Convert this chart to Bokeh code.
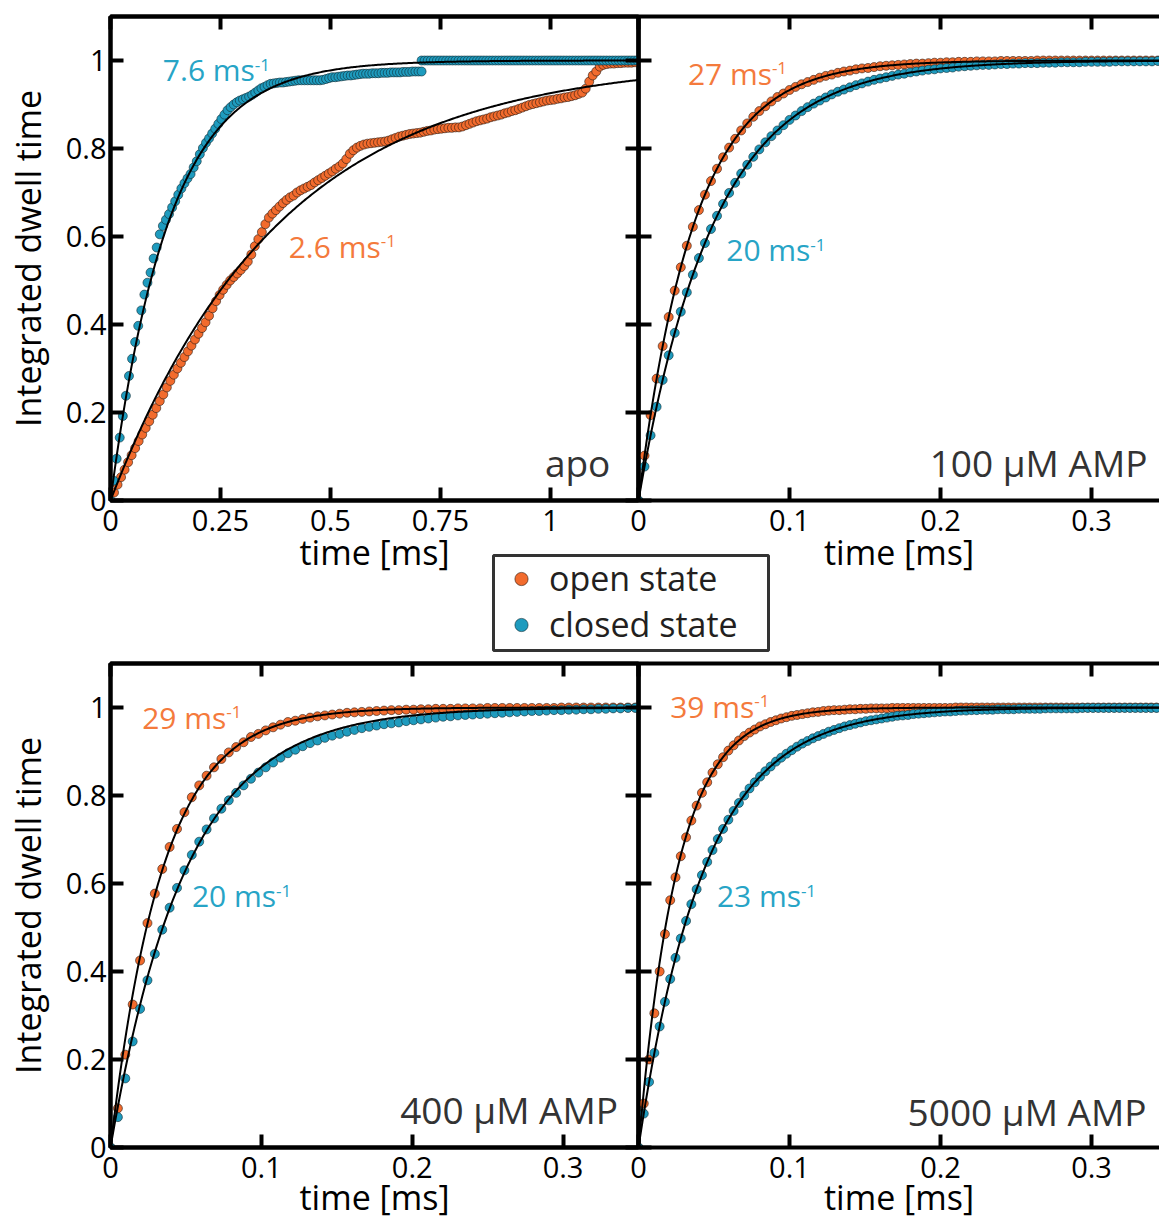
import numpy as np
from bokeh.plotting import figure
from bokeh.layouts import row, column
from bokeh.models import (Range1d, LinearAxis, FixedTicker, CustomJSTickFormatter,
                          Label, Legend, LegendItem)
from bokeh.embed import file_html
from bokeh.resources import INLINE

FONT = "Open Sans"
ORANGE = "#F26B2D"
TEAL = "#1E9BBE"
ORANGE_TXT = "#F47A3C"
TEAL_TXT = "#27A4C6"

# ---------------- data ----------------
panel_names = ["apo", "100 μM AMP", "400 μM AMP", "5000 μM AMP"]
rate_open = [2.6, 27, 29, 39]      # ms^-1, fit rates (open state)
rate_closed = [7.6, 20, 20, 23]    # ms^-1, fit rates (closed state)
rate_text_open = ["2.6 ms", "27 ms", "29 ms", "39 ms"]
rate_text_closed = ["7.6 ms", "20 ms", "20 ms", "23 ms"]
legend_labels = ["open state", "closed state"]

y_ticks = [0, 0.2, 0.4, 0.6, 0.8, 1]
x_ticks_apo = [0, 0.25, 0.5, 0.75, 1]
x_ticks_amp = [0, 0.1, 0.2, 0.3]

# time-bin widths (ms)
dt_apo_open = 0.008
dt_apo_closed = 0.007
t0_apo_closed_tail = 0.707
dt_100 = 0.004
dt_400 = 0.0049
dt_5000 = 0.0035

apo_open = [
    0.0, 0.018, 0.036, 0.053, 0.07, 0.087, 0.103, 0.119, 0.135, 0.15,
    0.165, 0.18, 0.195, 0.21, 0.226, 0.241, 0.257, 0.272, 0.286, 0.3,
    0.313, 0.326, 0.339, 0.352, 0.366, 0.379, 0.392, 0.405, 0.42, 0.437,
    0.453, 0.467, 0.479, 0.49, 0.5, 0.508, 0.516, 0.524, 0.533, 0.543,
    0.559, 0.578, 0.594, 0.61, 0.628, 0.643, 0.652, 0.66, 0.668, 0.676,
    0.683, 0.689, 0.693, 0.7, 0.705, 0.709, 0.713, 0.717, 0.723, 0.728,
    0.733, 0.738, 0.743, 0.748, 0.754, 0.759, 0.766, 0.776, 0.788, 0.796,
    0.802, 0.806, 0.809, 0.811, 0.812, 0.813, 0.814, 0.815, 0.816, 0.818,
    0.821, 0.824, 0.827, 0.829, 0.831, 0.833, 0.834, 0.835, 0.836, 0.838,
    0.84, 0.841, 0.843, 0.844, 0.845, 0.846, 0.847, 0.847, 0.848, 0.848,
    0.85, 0.853, 0.856, 0.859, 0.862, 0.864, 0.866, 0.868, 0.871, 0.873,
    0.875, 0.877, 0.88, 0.882, 0.885, 0.887, 0.89, 0.893, 0.896, 0.899,
    0.901, 0.903, 0.905, 0.907, 0.909, 0.91, 0.911, 0.913, 0.914, 0.916,
    0.917, 0.919, 0.921, 0.924, 0.927, 0.936, 0.952, 0.966, 0.975, 0.986,
    0.99, 0.992, 0.993, 0.993, 0.994, 0.994, 0.995, 0.995, 0.995, 0.996]

apo_closed = [
    0.0, 0.045, 0.095, 0.143, 0.192, 0.238, 0.283, 0.322, 0.36, 0.397,
    0.432, 0.468, 0.495, 0.518, 0.55, 0.575, 0.605, 0.624, 0.638, 0.651,
    0.666, 0.68, 0.695, 0.709, 0.721, 0.732, 0.742, 0.757, 0.771, 0.787,
    0.801, 0.813, 0.823, 0.834, 0.845, 0.856, 0.867, 0.877, 0.887, 0.894,
    0.9, 0.905, 0.909, 0.912, 0.915, 0.918, 0.922, 0.927, 0.932, 0.937,
    0.94, 0.944, 0.947, 0.948, 0.949, 0.95, 0.95, 0.951, 0.952, 0.953,
    0.954, 0.955, 0.955, 0.955, 0.955, 0.955, 0.955, 0.955, 0.955, 0.956,
    0.958, 0.96, 0.962, 0.962, 0.963, 0.964, 0.965, 0.966, 0.966, 0.967,
    0.968, 0.969, 0.97, 0.97, 0.97, 0.971, 0.971, 0.971, 0.972, 0.972,
    0.972, 0.973, 0.973, 0.973, 0.973, 0.974, 0.974, 0.974, 0.975, 0.975,
    0.975, 0.975]

apo_closed_tail = [
    1.0, 1.0, 1.0, 1.0, 1.0, 1.0, 1.0, 1.0, 1.0, 1.0,
    1.0, 1.0, 1.0, 1.0, 1.0, 1.0, 1.0, 1.0, 1.0, 1.0,
    1.0, 1.0, 1.0, 1.0, 1.0, 1.0, 1.0, 1.0, 1.0, 1.0,
    1.0, 1.0, 1.0, 1.0, 1.0, 1.0, 1.0, 1.0, 1.0, 1.0,
    1.0, 1.0, 1.0, 1.0, 1.0, 1.0, 1.0, 1.0, 1.0, 1.0,
    1.0, 1.0, 1.0, 1.0, 1.0, 1.0, 1.0, 1.0, 1.0, 1.0,
    1.0, 1.0, 1.0, 1.0, 1.0, 1.0, 1.0, 1.0, 1.0, 1.0,
    1.0]

amp100_open = [
    0.0, 0.102, 0.194, 0.277, 0.351, 0.417, 0.477, 0.53, 0.579, 0.622,
    0.66, 0.695, 0.726, 0.754, 0.78, 0.802, 0.822, 0.841, 0.857, 0.872,
    0.885, 0.896, 0.907, 0.917, 0.925, 0.933, 0.94, 0.946, 0.951, 0.956,
    0.961, 0.965, 0.968, 0.972, 0.975, 0.977, 0.98, 0.982, 0.983, 0.985,
    0.987, 0.988, 0.989, 0.99, 0.991, 0.992, 0.993, 0.993, 0.994, 0.995,
    0.995, 0.996, 0.996, 0.997, 0.997, 0.997, 0.998, 0.998, 0.998, 0.998,
    0.999, 0.999, 0.999, 0.999, 0.999, 0.999, 1.0, 1.0, 1.0, 1.0,
    1.0, 1.0, 1.0, 1.0, 1.0, 1.0, 1.0, 1.0, 1.0, 1.0,
    1.0, 1.0, 1.0, 1.0, 1.0, 1.0, 1.0]

amp100_closed = [
    0.0, 0.077, 0.148, 0.213, 0.274, 0.33, 0.381, 0.429, 0.473, 0.513,
    0.551, 0.585, 0.617, 0.647, 0.674, 0.699, 0.722, 0.743, 0.763, 0.781,
    0.798, 0.814, 0.828, 0.841, 0.853, 0.865, 0.875, 0.885, 0.894, 0.902,
    0.909, 0.916, 0.923, 0.929, 0.934, 0.939, 0.944, 0.948, 0.952, 0.956,
    0.959, 0.962, 0.965, 0.968, 0.97, 0.973, 0.975, 0.977, 0.979, 0.98,
    0.982, 0.983, 0.984, 0.986, 0.987, 0.988, 0.989, 0.99, 0.99, 0.991,
    0.992, 0.992, 0.993, 0.993, 0.994, 0.994, 0.994, 0.995, 0.995, 0.995,
    0.996, 0.996, 0.996, 0.996, 0.997, 0.997, 0.997, 0.997, 0.997, 0.998,
    0.998, 0.998, 0.998, 0.998, 0.998, 0.998, 0.999]

amp400_open = [
    0.0, 0.089, 0.211, 0.325, 0.425, 0.51, 0.577, 0.633, 0.683, 0.724,
    0.762, 0.796, 0.823, 0.845, 0.864, 0.883, 0.898, 0.91, 0.921, 0.933,
    0.94, 0.948, 0.955, 0.961, 0.967, 0.97, 0.974, 0.977, 0.98, 0.982,
    0.984, 0.986, 0.988, 0.989, 0.99, 0.991, 0.992, 0.993, 0.994, 0.994,
    0.995, 0.995, 0.996, 0.996, 0.997, 0.997, 0.997, 0.998, 0.998, 0.998,
    0.998, 0.999, 0.999, 0.999, 0.999, 0.999, 0.999, 0.999, 0.999, 0.999,
    0.999, 1.0, 1.0, 1.0, 1.0, 1.0, 1.0, 1.0, 1.0, 1.0,
    1.0, 1.0]

amp400_closed = [
    0.0, 0.069, 0.157, 0.241, 0.315, 0.38, 0.44, 0.495, 0.545, 0.59,
    0.63, 0.665, 0.695, 0.723, 0.748, 0.77, 0.789, 0.806, 0.823, 0.838,
    0.852, 0.864, 0.875, 0.886, 0.896, 0.904, 0.912, 0.919, 0.925, 0.931,
    0.936, 0.94, 0.945, 0.949, 0.953, 0.956, 0.959, 0.962, 0.964, 0.966,
    0.969, 0.971, 0.973, 0.975, 0.977, 0.979, 0.98, 0.982, 0.983, 0.984,
    0.985, 0.986, 0.987, 0.988, 0.989, 0.99, 0.991, 0.992, 0.992, 0.993,
    0.994, 0.994, 0.995, 0.995, 0.996, 0.996, 0.997, 0.997, 0.998, 0.998,
    0.999, 0.999]

amp5000_open = [
    0.0, 0.1, 0.2, 0.305, 0.4, 0.485, 0.562, 0.614, 0.662, 0.705,
    0.743, 0.777, 0.806, 0.83, 0.852, 0.871, 0.887, 0.902, 0.914, 0.925,
    0.935, 0.943, 0.95, 0.957, 0.962, 0.967, 0.971, 0.975, 0.978, 0.981,
    0.983, 0.985, 0.987, 0.989, 0.99, 0.992, 0.993, 0.994, 0.994, 0.995,
    0.996, 0.996, 0.997, 0.997, 0.998, 0.998, 0.998, 0.998, 0.999, 0.999,
    0.999, 0.999, 0.999, 0.999, 0.999, 0.999, 0.999, 0.999, 0.999, 0.999,
    1.0, 1.0, 1.0, 1.0, 1.0, 1.0, 1.0, 1.0, 1.0, 1.0,
    1.0, 1.0, 1.0, 1.0, 1.0, 1.0, 1.0, 1.0, 1.0, 1.0,
    1.0, 1.0, 1.0, 1.0, 1.0, 1.0, 1.0, 1.0, 1.0, 1.0,
    1.0, 1.0, 1.0, 1.0, 1.0, 1.0, 1.0, 1.0, 1.0]

amp5000_closed = [
    0.0, 0.077, 0.149, 0.215, 0.275, 0.331, 0.383, 0.431, 0.475, 0.515,
    0.553, 0.587, 0.619, 0.649, 0.676, 0.701, 0.724, 0.745, 0.765, 0.783,
    0.8, 0.816, 0.83, 0.843, 0.855, 0.866, 0.877, 0.886, 0.895, 0.903,
    0.911, 0.918, 0.924, 0.93, 0.935, 0.94, 0.945, 0.949, 0.953, 0.957,
    0.96, 0.963, 0.966, 0.969, 0.971, 0.973, 0.975, 0.977, 0.979, 0.981,
    0.982, 0.983, 0.985, 0.986, 0.987, 0.988, 0.989, 0.99, 0.991, 0.991,
    0.992, 0.993, 0.993, 0.994, 0.994, 0.995, 0.995, 0.995, 0.996, 0.996,
    0.996, 0.996, 0.997, 0.997, 0.997, 0.997, 0.997, 0.998, 0.998, 0.998,
    0.998, 0.998, 0.998, 0.998, 0.999, 0.999, 0.999, 0.999, 0.999, 0.999,
    0.999, 0.999, 0.999, 0.999, 0.999, 0.999, 0.999, 0.999, 0.999]


def tgrid(values, step, start=0.0):
    return [round(start + step * i, 4) for i in range(len(values))]


# ---------------- styling helpers ----------------
def style_axis(ax, ticks, show_labels):
    ax.ticker = FixedTicker(ticks=ticks)
    ax.formatter = CustomJSTickFormatter(code="return String(tick)")
    ax.axis_line_color = "black"
    ax.axis_line_width = 4
    ax.major_tick_in = 13
    ax.major_tick_out = 0
    ax.major_tick_line_width = 4
    ax.major_tick_line_color = "black"
    ax.minor_tick_line_color = None
    ax.major_label_text_font = FONT
    ax.major_label_text_color = "black"
    if show_labels:
        ax.major_label_text_font_size = "29px"
    else:
        ax.major_label_text_font_size = "0px"
        ax.major_label_text_alpha = 0
        ax.major_label_standoff = 0


X_END_RIGHT = 0.345
MARKER_KW_OPEN = dict(marker="circle", size=9, fill_color=ORANGE,
                      line_color="#2a1a10", line_width=0.6)
MARKER_KW_CLOSED = dict(marker="circle", size=9, fill_color=TEAL,
                        line_color="#0f2a33", line_width=0.6)


def make_panel(x_end, x_ticks, is_left, is_top):
    p = figure(x_range=Range1d(0, x_end), y_range=Range1d(0, 1.1),
               frame_width=528 if is_left else 521, frame_height=484,
               min_border_left=110 if is_left else 159,
               min_border_right=10 if is_left else 0,
               min_border_top=16 if is_top else 8,
               min_border_bottom=155 if is_top else 71,
               output_backend="svg", toolbar_location=None,
               background_fill_color=None, border_fill_color=None)
    p.xgrid.visible = False
    p.ygrid.visible = False
    if is_left:
        p.outline_line_color = "black"
        p.outline_line_width = 4
    else:
        p.outline_line_color = None
        p.margin = (0, 0, 0, -169)

    xb = p.xaxis[0]
    style_axis(xb, x_ticks, True)
    xb.major_label_standoff = 9
    xb.axis_label = "time [ms]"
    xb.axis_label_text_font = FONT
    xb.axis_label_text_font_size = "34px"
    xb.axis_label_text_font_style = "normal"
    xb.axis_label_text_color = "black"
    xb.axis_label_standoff = -5 if is_top else -7

    yl = p.yaxis[0]
    style_axis(yl, y_ticks, is_left)
    if is_left:
        yl.major_label_standoff = 4
        yl.axis_label = "Integrated dwell time"
        yl.axis_label_text_font = FONT
        yl.axis_label_text_font_size = "34px"
        yl.axis_label_text_font_style = "normal"
        yl.axis_label_text_color = "black"
        yl.axis_label_standoff = 12

    top = LinearAxis()
    style_axis(top, x_ticks, False)
    p.add_layout(top, "above")
    if is_left:
        right = LinearAxis()
        style_axis(right, y_ticks, False)
        p.add_layout(right, "right")
    return p


def add_series(p, t_o, y_o, t_c, y_c, k_o, k_c, x_end, extra=None):
    p.scatter(t_o, y_o, **MARKER_KW_OPEN)
    p.scatter(t_c, y_c, **MARKER_KW_CLOSED)
    if extra is not None:
        p.scatter(extra[0], extra[1], **MARKER_KW_CLOSED)
    tf = np.linspace(0, x_end, 400)
    p.line(tf, 1 - np.exp(-k_o * tf), line_color="black", line_width=2)
    p.line(tf, 1 - np.exp(-k_c * tf), line_color="black", line_width=2)


def rate_label(p, x, y, text, color, sup_dx):
    p.add_layout(Label(x=x, y=y, text=text, y_offset=9, text_font=FONT,
                       text_font_size="30px", text_color=color,
                       text_align="left", text_baseline="alphabetic"))
    p.add_layout(Label(x=x, y=y, text="-1", x_offset=sup_dx, y_offset=14,
                       text_font=FONT, text_font_size="17px",
                       text_color=color, text_align="left", text_baseline="alphabetic"))


def name_label(p, x, y, text):
    p.add_layout(Label(x=x, y=y, text=text, y_offset=11, text_font=FONT,
                       text_font_size="37px", text_color="#333333",
                       text_align="right", text_baseline="alphabetic"))


# ---------------- panels ----------------
tl = make_panel(1.2, x_ticks_apo, True, True)
add_series(tl, tgrid(apo_open, dt_apo_open), apo_open,
           tgrid(apo_closed, dt_apo_closed), apo_closed,
           rate_open[0], rate_closed[0], 1.2,
           extra=(tgrid(apo_closed_tail, dt_apo_closed, t0_apo_closed_tail), apo_closed_tail))
rate_label(tl, 0.119, 0.959, rate_text_closed[0], TEAL_TXT, 92)
rate_label(tl, 0.405, 0.557, rate_text_open[0], ORANGE_TXT, 92)
name_label(tl, 1.136, 0.061, panel_names[0])

tr = make_panel(X_END_RIGHT, x_ticks_amp, False, True)
add_series(tr, tgrid(amp100_open, dt_100), amp100_open,
           tgrid(amp100_closed, dt_100), amp100_closed,
           rate_open[1], rate_closed[1], X_END_RIGHT)
rate_label(tr, 0.0327, 0.951, rate_text_open[1], ORANGE_TXT, 84)
rate_label(tr, 0.0581, 0.549, rate_text_closed[1], TEAL_TXT, 84)
name_label(tr, 0.337, 0.061, panel_names[1])

bl = make_panel(0.35, x_ticks_amp, True, False)
add_series(bl, tgrid(amp400_open, dt_400), amp400_open,
           tgrid(amp400_closed, dt_400), amp400_closed,
           rate_open[2], rate_closed[2], 0.35)
rate_label(bl, 0.021, 0.957, rate_text_open[2], ORANGE_TXT, 84)
rate_label(bl, 0.054, 0.552, rate_text_closed[2], TEAL_TXT, 84)
name_label(bl, 0.3364, 0.061, panel_names[2])

br = make_panel(X_END_RIGHT, x_ticks_amp, False, False)
add_series(br, tgrid(amp5000_open, dt_5000), amp5000_open,
           tgrid(amp5000_closed, dt_5000), amp5000_closed,
           rate_open[3], rate_closed[3], X_END_RIGHT)
rate_label(br, 0.021, 0.982, rate_text_open[3], ORANGE_TXT, 84)
rate_label(br, 0.0519, 0.552, rate_text_closed[3], TEAL_TXT, 84)
name_label(br, 0.3364, 0.057, panel_names[3])

# ---------------- legend (own small canvas between the rows) ----------------
# its frame is the legend box; the series renderers used for the swatches lie
# outside its x-range, so only the legend swatches are visible
lg = figure(x_range=Range1d(5, 6), y_range=Range1d(0, 1.1),
            frame_width=275, frame_height=95,
            min_border_left=3, min_border_right=3, min_border_top=3, min_border_bottom=3,
            x_axis_location=None, y_axis_location=None,
            output_backend="svg", toolbar_location=None,
            background_fill_color=None, border_fill_color=None,
            outline_line_color="#333333", outline_line_width=3)
lg.xgrid.visible = False
lg.ygrid.visible = False
lg_open = lg.scatter(tgrid(amp100_open, dt_100), amp100_open, **MARKER_KW_OPEN)
lg_closed = lg.scatter(tgrid(amp100_closed, dt_100), amp100_closed, **MARKER_KW_CLOSED)
legend = Legend(items=[LegendItem(label=legend_labels[0], renderers=[lg_open]),
                       LegendItem(label=legend_labels[1], renderers=[lg_closed])],
                location="top_left", orientation="vertical",
                padding=2, spacing=0, margin=0,
                glyph_width=56, glyph_height=33, label_standoff=0,
                label_height=20,
                label_text_font=FONT, label_text_font_size="34px",
                label_text_color="#231F20",
                border_line_color=None, background_fill_alpha=0.0)
lg.add_layout(legend)
lg.margin = (-103, 0, 2, 490)

layout = column(row(tl, tr), lg, row(bl, br))
open("out.html", "w").write(file_html(layout, INLINE, title="Integrated dwell time"))
